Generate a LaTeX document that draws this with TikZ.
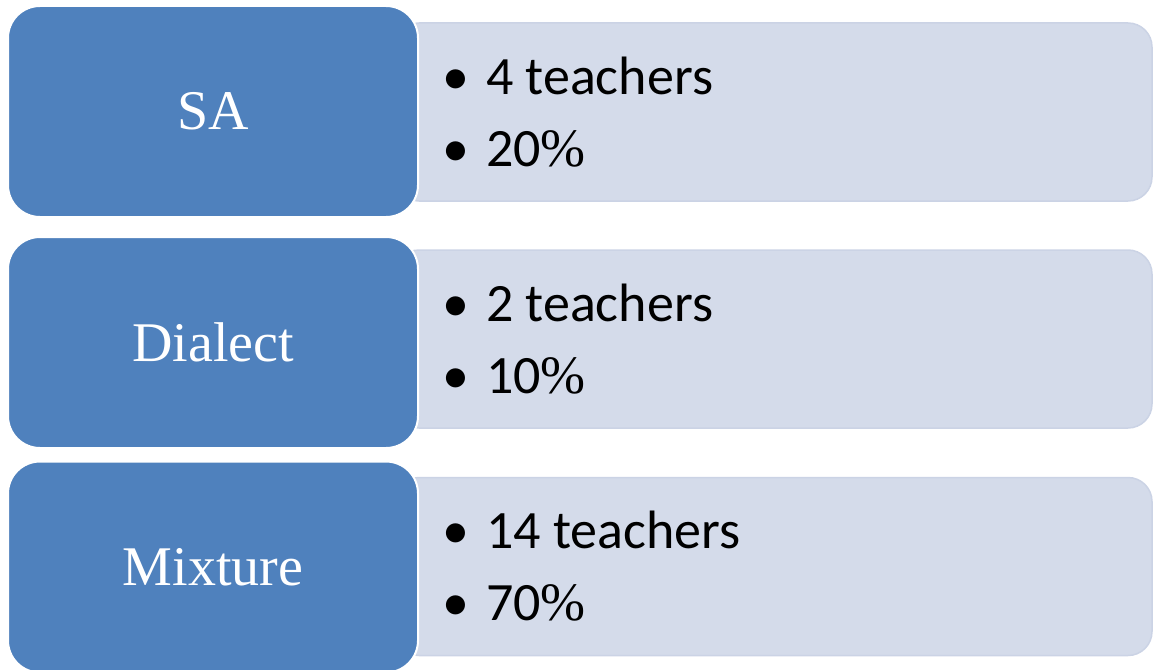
\documentclass[tikz,border=0pt]{standalone}
\usepackage{fontspec}
\setmainfont{Liberation Serif}
\newfontfamily\listfont{Carlito}
\usetikzlibrary{positioning}

\definecolor{catblue}{HTML}{4F81BD}
\definecolor{infogray}{HTML}{D4DBEA}
\definecolor{infoedge}{HTML}{CBD3E5}

\newcommand{\pct}{{\rmfamily\%}}

\begin{document}
\begin{tikzpicture}[x=1pt, y=-1pt,
    catbox/.style={draw=white, line width=2pt, fill=catblue, rounded corners=32pt,
      minimum width=410pt, minimum height=211pt, text=white, inner sep=0pt,
      font=\fontsize{56}{60}\selectfont},
    infobox/.style={draw=infoedge, line width=1.5pt, fill=infogray, rounded corners=24pt,
      minimum width=757pt, minimum height=178pt, inner sep=0pt},
    infotext/.style={anchor=west, align=left, inner sep=0pt,
      font=\listfont\fontsize{54}{72}\selectfont}]
  \useasboundingbox (0,0) rectangle (1153,669); % fixes the margins

  % light boxes behind
  \node [infobox] (sainfo) at (773.5,112) {};
  \node [infobox] (dialectinfo) at (773.5,339) {};
  \node [infobox] (mixtureinfo) at (773.5,566.5) {};

  % blue boxes on top
  \node [catbox] (sa) at (213,111.5) {SA};
  \node [catbox] (dialect) at (213,342.5) {Dialect};
  \node [catbox] (mixture) at (213,567) {Mixture};

  % bullet lists
  \node [infotext] (satext) at (442,112) {\textbullet\hspace{17pt}4 teachers\\\textbullet\hspace{17pt}20\pct};
  \node [infotext] (dialecttext) at (442,339) {\textbullet\hspace{17pt}2 teachers\\\textbullet\hspace{17pt}10\pct};
  \node [infotext] (mixturetext) at (442,566.5) {\textbullet\hspace{17pt}14 teachers\\\textbullet\hspace{17pt}70\pct};
\end{tikzpicture}
\end{document}
